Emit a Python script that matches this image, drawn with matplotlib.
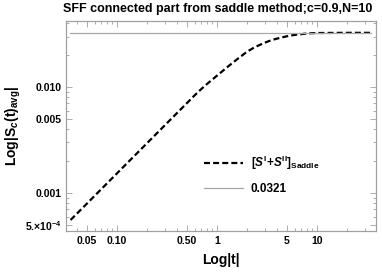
import matplotlib
matplotlib.use("Agg")
import matplotlib.pyplot as plt
import numpy as np
from matplotlib.ticker import FixedLocator, NullFormatter

plt.rcParams["font.family"] = ["Liberation Sans", "DejaVu Sans"]
plt.rcParams["font.weight"] = "bold"
plt.rcParams["mathtext.fontset"] = "custom"
plt.rcParams["mathtext.rm"] = "Liberation Sans:bold"
plt.rcParams["mathtext.it"] = "Liberation Sans:bold:italic"
plt.rcParams["mathtext.bf"] = "Liberation Sans:bold"

# saddle-point curve
t_vals = [0.0344, 0.05, 0.1, 0.2, 0.537, 0.703, 1.0, 1.35, 2.14, 3.39, 5.37, 8.5, 15.0, 35.0]
s_vals = [5.56e-4, 7.93e-4, 1.53e-3, 2.96e-3, 7.54e-3, 9.7e-3, 1.28e-2, 1.62e-2,
          2.27e-2, 2.76e-2, 3.07e-2, 3.23e-2, 3.25e-2, 3.25e-2]
const_val = 0.0321

x_major = [0.05, 0.1, 0.5, 1, 5, 10]
x_major_labels = ["0.05", "0.10", "0.50", "1", "5", "10"]
y_major = [5e-4, 1e-3, 5e-3, 1e-2]
y_major_labels = [r"5.$\times$10$^{-4}$", "0.001", "0.005", "0.010"]

fig = plt.figure(figsize=(3.82, 2.73), dpi=100)
ax = fig.add_axes([0.1728, 0.1538, 0.8115, 0.7692])

# smooth the read points a little in log-log space
lt = np.log10(t_vals)
ls = np.log10(s_vals)
tt = np.linspace(lt[0], lt[-1], 400)
ss = np.interp(tt, lt, ls)
k = np.ones(21) / 21
ss_s = np.convolve(np.pad(ss, 10, mode="reflect", reflect_type="odd"), k, mode="valid")

ax.plot(10 ** tt, 10 ** ss_s, color="black", lw=1.6, dashes=(2.7, 1.4),
        label=r"[$S^{\mathrm{I}}$+$S^{\mathrm{II}}$]$_{\mathrm{Saddle}}$")
ax.plot([0.034, 35], [const_val, const_val], color="#a8a8a8", lw=0.9,
        label="0.0321")

ax.set_xscale("log")
ax.set_yscale("log")
ax.set_xlim(0.031, 39)
ax.set_ylim(4.38e-4, 0.042)

ax.xaxis.set_major_locator(FixedLocator(x_major))
ax.set_xticklabels(x_major_labels)
ax.yaxis.set_major_locator(FixedLocator(y_major))
ax.set_yticklabels(y_major_labels)
xminor = [m * d for d in (0.01, 0.1, 1, 10) for m in range(2, 10)]
ax.xaxis.set_minor_locator(FixedLocator([v for v in xminor if v not in x_major]))
ax.xaxis.set_minor_formatter(NullFormatter())
yminor = [m * d for d in (1e-4, 1e-3, 1e-2) for m in range(2, 10)]
ax.yaxis.set_minor_locator(FixedLocator([v for v in yminor if v not in y_major]))
ax.yaxis.set_minor_formatter(NullFormatter())

ax.tick_params(which="both", direction="in", top=True, right=True,
               color="#a0a0a0", labelsize=7.5, width=0.6)
ax.tick_params(which="major", length=4)
ax.tick_params(which="minor", length=2)
for sp in ax.spines.values():
    sp.set_color("#a0a0a0")
    sp.set_linewidth(0.9)

ax.set_xlabel("Log|t|", fontsize=10, fontweight="bold", labelpad=5)
ax.set_ylabel(r"Log|S$_{c}$(t)$_{\mathrm{avg}}$|", fontsize=10, fontweight="bold")
ax.yaxis.label.set_va("center")
ax.yaxis.set_label_coords((13 - 66) / 310, 0.5)
fig.text(218 / 382, 1 - 9 / 273, "SFF connected part from saddle method;c=0.9,N=10",
         fontsize=9, fontweight="bold", ha="center", va="center")

ax.legend(loc="upper left", bbox_to_anchor=(0.41, 0.42), frameon=False,
          fontsize=8.5, handlelength=3.3, labelspacing=1.0, handletextpad=0.7)

fig.savefig("out.png", dpi=100)
